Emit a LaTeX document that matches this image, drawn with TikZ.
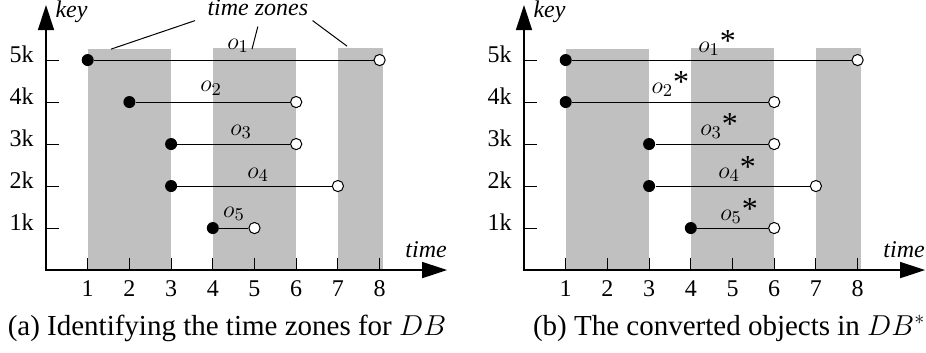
\documentclass[tikz,border=0pt]{standalone}
\usepackage{fontspec}
\setmainfont{Liberation Serif}
\usetikzlibrary{arrows.meta}

\definecolor{zonegray}{RGB}{192,192,192}

\newcommand{\bigstar}{\raisebox{0.2pt}{\fontsize{16}{16}\selectfont *}}

\tikzset{
  axis/.style={line width=0.75pt,
    {Triangle[length=12.5pt,width=8pt]}-{Triangle[length=12.5pt,width=8pt]}},
  tickmark/.style={line width=0.5pt},
  zone/.style={fill=zonegray},
  objline/.style={line width=0.5pt},
  startpt/.style={circle,fill=black,inner sep=0pt,minimum size=6pt},
  endpt/.style={circle,draw=black,fill=white,line width=0.5pt,inner sep=0pt,minimum size=5.6pt},
  objlbl/.style={anchor=base west,inner sep=0pt,font=\fontsize{13}{15}\selectfont},
  caption/.style={anchor=base,inner sep=0pt,font=\fontsize{14.5}{17}\selectfont}
}

% zones, axes and ticks of one panel, #1 = prefix of the names
\newcommand{\timeframe}[1]{
  \fill[zone] (1,0) rectangle (3,5.26);
  \fill[zone] (4,0) rectangle (6,5.29);
  \fill[zone] (7,0) rectangle (8.07,5.29);
  \coordinate (#1y) at (0,6.31);
  \coordinate (#1o) at (0,0);
  \coordinate (#1x) at (9.62,0);
  \draw[axis] (#1y) -- (#1o) -- (#1x);
  \foreach \t in {1,...,8} {
    \draw[tickmark] (\t,0) -- (\t,0.29);
    \node[anchor=north,inner sep=0pt] (#1t\t) at (\t,-0.24) {\t};
  }
  \foreach \k in {1,...,5} {
    \draw[tickmark] (0,\k) -- (0.31,\k);
    \node[anchor=base east,inner sep=0pt] (#1k\k) at (-0.29,\k-0.07) {\k k};
  }
  \node[anchor=base west,inner sep=0pt] (#1key) at (0.22,6.02) {\textit{key}};
  \node[anchor=base west,inner sep=0pt] (#1time) at (8.61,0.31) {\textit{time}};
}

\begin{document}
\begin{tikzpicture}[x=20.85pt,y=21pt,font=\fontsize{12}{14}\selectfont]
  \useasboundingbox (-1.103,-1.952) rectangle (21.103,6.43);

  % (a) identifying the time zones
  \begin{scope}
    \timeframe{a}
    \node[startpt] (a1s) at (1,5) {};
    \node[endpt] (a1e) at (8,5) {};
    \node[startpt] (a2s) at (2,4) {};
    \node[endpt] (a2e) at (6,4) {};
    \node[startpt] (a3s) at (3,3) {};
    \node[endpt] (a3e) at (6,3) {};
    \node[startpt] (a4s) at (3,2) {};
    \node[endpt] (a4e) at (7,2) {};
    \node[startpt] (a5s) at (4,1) {};
    \node[endpt] (a5e) at (5,1) {};
    \draw[objline] (a1s) -- (a1e);
    \draw[objline] (a2s) -- (a2e);
    \draw[objline] (a3s) -- (a3e);
    \draw[objline] (a4s) -- (a4e);
    \draw[objline] (a5s) -- (a5e);
    \node[objlbl] (la1) at (4.34,5.26) {$o_1$};
    \node[objlbl] (la2) at (3.69,4.24) {$o_2$};
    \node[objlbl] (la3) at (4.41,3.21) {$o_3$};
    \node[objlbl] (la4) at (4.82,2.19) {$o_4$};
    \node[objlbl] (la5) at (4.24,1.26) {$o_5$};
    \node[anchor=base,inner sep=2pt] (tz) at (5.08,6.05) {\textit{time zones}};
    \coordinate (z1) at (1.56,5.26);
    \coordinate (z2) at (4.94,5.26);
    \coordinate (z3) at (7.22,5.33);
    \draw[line width=0.5pt] ([xshift=-4pt]tz.south west) -- (z1);
    \draw[line width=0.5pt] ([yshift=-3pt]tz.south) -- (z2);
    \draw[line width=0.5pt] (tz.south east) -- (z3);
    \node[caption] (capa) at (4.34,-1.55) {(a) Identifying the time zones for $DB$};
  \end{scope}

  % (b) the converted objects
  \begin{scope}[shift={(11.463,0)}]
    \timeframe{b}
    \node[startpt] (b1s) at (1,5) {};
    \node[endpt] (b1e) at (8,5) {};
    \node[startpt] (b2s) at (1,4) {};
    \node[endpt] (b2e) at (6,4) {};
    \node[startpt] (b3s) at (3,3) {};
    \node[endpt] (b3e) at (6,3) {};
    \node[startpt] (b4s) at (3,2) {};
    \node[endpt] (b4e) at (7,2) {};
    \node[startpt] (b5s) at (4,1) {};
    \node[endpt] (b5e) at (6,1) {};
    \draw[objline] (b1s) -- (b1e);
    \draw[objline] (b2s) -- (b2e);
    \draw[objline] (b3s) -- (b3e);
    \draw[objline] (b4s) -- (b4e);
    \draw[objline] (b5s) -- (b5e);
    \node[objlbl] (lb1) at (4.17,5.19) {$o_1$\bigstar};
    \node[objlbl] (lb2) at (3.05,4.21) {$o_2$\bigstar};
    \node[objlbl] (lb3) at (4.22,3.21) {$o_3$\bigstar};
    \node[objlbl] (lb4) at (4.65,2.19) {$o_4$\bigstar};
    \node[objlbl] (lb5) at (4.70,1.19) {$o_5$\bigstar};
    \node[caption] (capb) at (4.92,-1.55) {(b) The converted objects in $DB^{*}$};
  \end{scope}
\end{tikzpicture}
\end{document}
